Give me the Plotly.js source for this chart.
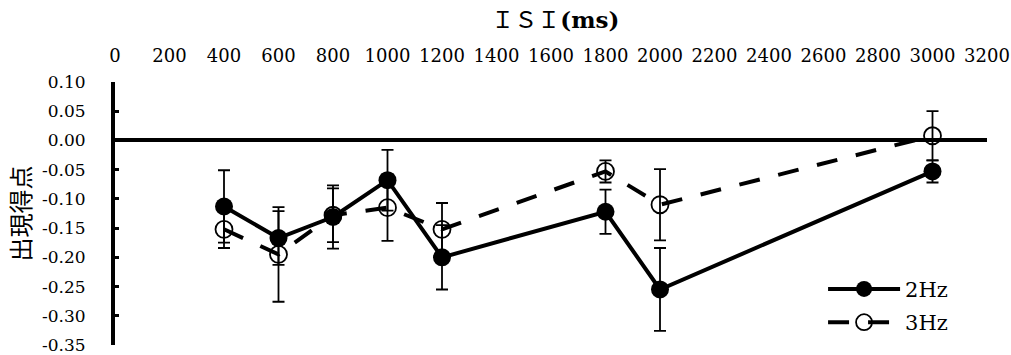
<!DOCTYPE html>
<html>
<head>
<meta charset="utf-8">
<script src="https://cdn.plot.ly/plotly-3.0.1.min.js"></script>
<style>
  html, body { margin: 0; padding: 0; background: #fff; }
  #chart { width: 1011px; height: 355px; }
</style>
</head>
<body>
<div id="chart"></div>
<script>
// Inter-stimulus interval (ms)
const isi = [400, 600, 800, 1000, 1200, 1800, 2000, 3000];

// Mean score and error per condition
const hz2 = [-0.113, -0.167, -0.131, -0.068, -0.200, -0.122, -0.255, -0.053];
const hz2Err = [0.062, 0.046, 0.054, 0.052, 0.055, 0.038, 0.071, 0.019];
const hz3 = [-0.152, -0.195, -0.128, -0.115, -0.152, -0.053, -0.110, 0.008];
const hz3Err = [0.032, 0.081, 0.046, 0.057, 0.045, 0.019, 0.061, 0.042];

// Axis ticks
const xTickVals = [0, 200, 400, 600, 800, 1000, 1200, 1400, 1600, 1800, 2000, 2200, 2400, 2600, 2800, 3000, 3200];
const xTickText = ['0', '200', '400', '600', '800', '1000', '1200', '1400', '1600', '1800', '2000', '2200', '2400', '2600', '2800', '3000', '3200'];
const yTickVals = [0.10, 0.05, 0.00, -0.05, -0.10, -0.15, -0.20, -0.25, -0.30, -0.35];
const yTickText = ['0.10', '0.05', '0.00', '-0.05', '-0.10', '-0.15', '-0.20', '-0.25', '-0.30', '-0.35'];

const serif = 'DejaVu Serif, Liberation Serif, serif';
const yMin = -0.35, yMax = 0.10;

const traces = [
  {
    name: '2Hz',
    x: isi, y: hz2,
    type: 'scatter', mode: 'lines+markers',
    line: { color: '#000', width: 4 },
    marker: { symbol: 'circle', size: 18, color: '#000' },
    error_y: { type: 'data', array: hz2Err, visible: true, color: '#000', thickness: 1.8, width: 6 },
    legendgroup: 'a'
  },
  {
    name: '3Hz',
    x: isi, y: hz3,
    type: 'scatter', mode: 'lines+markers',
    line: { color: '#000', width: 4, dash: '21px,19px' },
    marker: { symbol: 'circle-open', size: 17, color: '#000', line: { width: 1.8, color: '#000' } },
    error_y: { type: 'data', array: hz3Err, visible: true, color: '#000', thickness: 1.8, width: 6 },
    legendgroup: 'b'
  }
];

const layout = {
  width: 1011, height: 355,
  margin: { l: 115, r: 24, t: 82, b: 10 },
  paper_bgcolor: '#fff', plot_bgcolor: 'rgba(0,0,0,0)',
  font: { family: serif, size: 17, color: '#000' },
  title: {
    text: 'ＩＳＩ<b>(ms)</b>',
    font: { family: 'DejaVu Serif, Noto Sans CJK JP, serif', size: 23, color: '#000' },
    xref: 'paper', x: 0.505, xanchor: 'center',
    yref: 'container', y: 0.944, yanchor: 'middle'
  },
  showlegend: true,
  legend: {
    x: 0.812, xanchor: 'left', y: 0.29, yanchor: 'top',
    font: { family: serif, size: 21, color: '#000' },
    bgcolor: 'rgba(0,0,0,0)', borderwidth: 0,
    itemwidth: 72, tracegroupgap: 3, traceorder: 'grouped'
  },
  // Labels along the top edge
  xaxis: {
    range: [0, 3200], side: 'top',
    tickmode: 'array', tickvals: xTickVals, ticktext: xTickText,
    ticks: '', showline: false, showgrid: false, zeroline: false,
    ticklabelstandoff: 15,
    tickfont: { family: serif, size: 18, color: '#000' }
  },
  // Tick marks hanging from the zero line
  xaxis2: {
    overlaying: 'x', matches: 'x', range: [0, 3200],
    anchor: 'free', position: (0 - yMin) / (yMax - yMin), side: 'bottom',
    tickmode: 'array', tickvals: xTickVals,
    ticks: 'outside', ticklen: 6, tickwidth: 3, tickcolor: '#000',
    showticklabels: false, showline: false, showgrid: false, zeroline: false
  },
  yaxis: {
    range: [yMin, yMax],
    tickmode: 'array', tickvals: yTickVals, ticktext: yTickText,
    ticks: 'inside', ticklen: 4, tickwidth: 3, tickcolor: '#000',
    showline: true, linewidth: 4, linecolor: '#000',
    showgrid: false,
    zeroline: true, zerolinewidth: 4, zerolinecolor: '#000',
    ticklabelstandoff: 22,
    tickfont: { family: serif, size: 17, color: '#000' },
    title: {
      text: '出現得点',
      font: { family: 'Noto Sans CJK JP, sans-serif', size: 24, color: '#000' },
      standoff: 6
    }
  }
};

Plotly.newPlot('chart', traces, layout, { displayModeBar: false, staticPlot: true });
</script>
</body>
</html>
